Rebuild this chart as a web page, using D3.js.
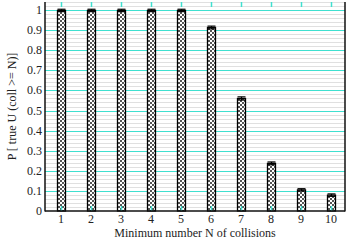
<!DOCTYPE html>
<html><head><meta charset="utf-8">
<script src="https://cdn.jsdelivr.net/npm/d3@7"></script>
<style>body{margin:0;background:#fff}svg{display:block}text{font-family:"Liberation Serif","Times New Roman",serif;fill:#222}</style>
</head><body><svg id="c" width="347" height="246"></svg>
<script>
const categories = [1,2,3,4,5,6,7,8,9,10];
const values = [0.998,0.998,0.998,0.998,0.998,0.913,0.560,0.237,0.105,0.079];
const errors = [0.006,0.006,0.006,0.006,0.006,0.007,0.008,0.007,0.006,0.006];
const yTicks = [0,0.1,0.2,0.3,0.4,0.5,0.6,0.7,0.8,0.9,1];
const yTickLabels = ["0","0.1","0.2","0.3","0.4","0.5","0.6","0.7","0.8","0.9","1"];
const xLabel = "Minimum number N of collisions";
const yLabel = "P [ true U (coll >= N)]";

const svg = d3.select("#c");
const L=45, R=345, T=2, B=211;
const x = d3.scaleLinear().domain([0.47,10.47]).range([L,R]);
const y = d3.scaleLinear().domain([0,1.04]).range([B,T]);

const defs = svg.append("defs");
const pat = defs.append("pattern").attr("id","chk").attr("patternUnits","userSpaceOnUse").attr("width",4).attr("height",4);
pat.append("rect").attr("width",4).attr("height",4).attr("fill","#fff");
pat.append("rect").attr("width",2).attr("height",2).attr("fill","#555");
pat.append("rect").attr("x",2).attr("y",2).attr("width",2).attr("height",2).attr("fill","#555");

// minor grid
const minor = d3.range(0, 1.041, 0.02).filter(v => Math.abs(v*10 - Math.round(v*10)) > 1e-6);
svg.append("g").selectAll("line").data(minor).join("line")
  .attr("x1",L).attr("x2",R).attr("y1",d=>Math.round(y(d))+0.5).attr("y2",d=>Math.round(y(d))+0.5)
  .attr("stroke","#e0e0e0").attr("stroke-width",1);
// major grid
svg.append("g").selectAll("line").data(yTicks.slice(1)).join("line")
  .attr("x1",L).attr("x2",R).attr("y1",d=>Math.round(y(d))+0.5).attr("y2",d=>Math.round(y(d))+0.5)
  .attr("stroke","#40e0d0").attr("stroke-width",1.2);

// bars
const bw = 8;
svg.append("g").selectAll("rect").data(categories).join("rect")
  .attr("x",(d)=>Math.round(x(d)-bw/2)+0.5).attr("width",bw)
  .attr("y",(d,i)=>y(values[i])).attr("height",(d,i)=>B-y(values[i]))
  .attr("fill","url(#chk)").attr("stroke","#000").attr("stroke-width",1.3);

// error bars
const eb = svg.append("g").attr("stroke","#000").attr("stroke-width",1.2);
categories.forEach((c,i)=>{
  const cx = Math.round(x(c))+0.5;
  eb.append("line").attr("x1",cx).attr("x2",cx).attr("y1",y(values[i]+errors[i])).attr("y2",y(values[i]-errors[i]));
  eb.append("line").attr("x1",cx-4).attr("x2",cx+4).attr("y1",y(values[i]+errors[i])).attr("y2",y(values[i]+errors[i]));
  eb.append("line").attr("x1",cx-4).attr("x2",cx+4).attr("y1",y(values[i]-errors[i])).attr("y2",y(values[i]-errors[i]));
});

// x ticks (teal, inside, bottom and top)
svg.append("g").selectAll("line").data(categories).join("line")
  .attr("x1",d=>Math.round(x(d))+0.5).attr("x2",d=>Math.round(x(d))+0.5).attr("y1",B).attr("y2",B-5)
  .attr("stroke","#40e0d0").attr("stroke-width",1.5);
svg.append("g").selectAll("line").data(categories).join("line")
  .attr("x1",d=>Math.round(x(d))+0.5).attr("x2",d=>Math.round(x(d))+0.5).attr("y1",T).attr("y2",T+5)
  .attr("stroke","#40e0d0").attr("stroke-width",1.5);

// frame
svg.append("line").attr("x1",L).attr("x2",L).attr("y1",T).attr("y2",B+0.5).attr("stroke","#111").attr("stroke-width",1.5);
svg.append("line").attr("x1",R).attr("x2",R).attr("y1",T).attr("y2",B+0.5).attr("stroke","#111").attr("stroke-width",1.5);
svg.append("line").attr("x1",L).attr("x2",R).attr("y1",B).attr("y2",B).attr("stroke","#111").attr("stroke-width",1.5);

// y tick labels
svg.append("g").selectAll("text").data(yTicks).join("text")
  .attr("x",L-3).attr("y",d=>y(d)+4).attr("text-anchor","end").attr("font-size",12)
  .text((d,i)=>yTickLabels[i]);
// x tick labels
svg.append("g").selectAll("text").data(categories).join("text")
  .attr("x",d=>x(d)).attr("y",B+12).attr("text-anchor","middle").attr("font-size",12)
  .text(d=>d);
// axis labels
svg.append("text").attr("x",(L+R)/2).attr("y",237).attr("text-anchor","middle").attr("font-size",12).text(xLabel);
svg.append("text").attr("transform",`translate(16,${(T+B)/2}) rotate(-90)`).attr("text-anchor","middle").attr("font-size",12).text(yLabel);
</script></body></html>
